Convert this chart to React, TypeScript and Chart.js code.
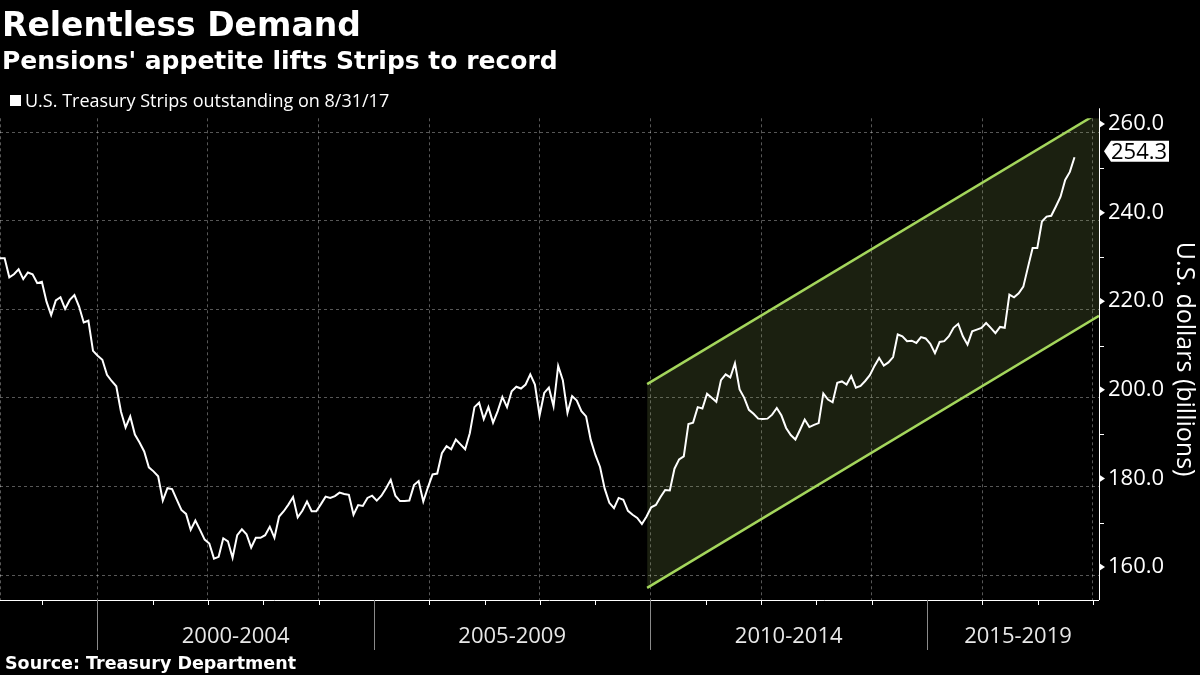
import React, { useEffect, useRef } from "react";
import { Chart, registerables } from "chart.js";

Chart.register(...registerables);

const TITLE = "Relentless Demand";
const SUBTITLE = "Pensions' appetite lifts Strips to record";
const LEGEND_LABEL = "U.S. Treasury Strips outstanding on 8/31/17";
const SOURCE = "Source: Treasury Department";
const Y_TITLE = "U.S. dollars (billions)";

// first and last observation dates (decimal years); observations are evenly spaced between them
const FIRST_DATE = 1998.24;
const LAST_DATE = 2017.667;

// U.S. Treasury Strips outstanding, billions of dollars
const STRIPS = [
  231.5, 231.5, 227.2, 227.9, 229.0, 226.8, 228.3, 227.9, 225.9, 226.2,
  221.7, 218.7, 222.0, 222.7, 220.1, 222.1, 223.2, 220.6, 217.0, 217.4,
  210.6, 209.5, 208.6, 205.2, 203.8, 202.6, 196.9, 193.3, 195.8, 191.7,
  189.9, 187.9, 184.3, 183.4, 182.3, 176.8, 179.6, 179.4, 177.0, 174.7,
  173.8, 170.2, 172.3, 170.2, 168.0, 167.1, 163.7, 164.1, 168.3, 167.6,
  163.9, 169.0, 170.3, 169.2, 166.2, 168.4, 168.4, 169.0, 170.9, 168.4,
  173.2, 174.4, 175.9, 177.6, 173.0, 174.5, 176.6, 174.4, 174.4, 176.0,
  177.7, 177.4, 177.8, 178.6, 178.3, 178.1, 173.6, 175.8, 175.6, 177.4,
  177.9, 176.8, 177.9, 179.6, 181.5, 177.9, 176.7, 176.7, 176.8, 180.3,
  181.2, 176.6, 179.8, 182.7, 182.9, 187.5, 189.1,
  188.4, 190.6, 189.5, 188.4, 192.0, 197.9, 198.9, 195.2, 197.9, 194.4,
  197.0, 200.2, 197.9, 201.5, 202.5, 202.1, 203.0, 205.3, 203.0, 196.0,
  201.1, 202.3, 198.1, 207.2, 204.0, 196.6, 200.4, 199.4, 197.0, 195.8,
  190.5, 187.1, 184.4, 179.5, 176.3, 175.1, 177.4, 177.0, 174.5, 173.6,
  172.9, 171.5, 173.2, 175.3, 175.8, 177.6, 179.2, 179.1,
  184.0, 186.1, 186.8, 194.1, 194.4, 197.9, 197.6, 200.9, 200.0, 199.1,
  204.0, 205.3, 204.6, 207.8, 201.9, 200.0, 197.3, 196.4, 195.3, 195.2,
  195.3, 196.2, 197.7, 196.0, 193.2, 191.6, 190.6, 192.8, 195.1, 193.4,
  193.9, 194.3, 201.0, 199.6, 199.0, 203.4, 203.7, 203.0, 204.9, 202.3,
  202.7, 203.8, 205.1, 207.2,
  209.0, 207.3, 208.0, 209.2, 214.3, 213.9, 212.8, 212.9, 212.4, 213.7,
  213.4, 212.2, 210.1, 212.6, 212.8, 213.9, 215.8, 216.7, 213.9, 212.0,
  215.0, 215.4, 215.8, 216.9, 215.8, 214.6, 216.0, 215.8, 223.3, 222.7,
  223.6, 225.1, 229.5, 233.8, 233.8, 239.8, 240.9, 241.1, 243.2, 245.4,
  249.2, 251.0, 254.3,
];
const LAST_VALUE = 254.3;

// trend channel (start and end of the two parallel lines)
const CHANNEL_DATES = [2009.94, 2018.11];
const CHANNEL_UPPER = [203.1, 264.4];
const CHANNEL_LOWER = [157.1, 218.5];

// axes
const X_MIN = 1998.24;
const X_MAX = 2018.11;
const Y_MIN = 154.36;
const Y_MAX = 263.1;
const Y_TICKS = [160, 180, 200, 220, 240, 260];
const Y_MINOR_TICKS = [170, 190, 210, 230, 250];
const GRID_YEARS = [2000, 2002, 2004, 2006, 2008, 2010, 2012, 2014, 2016, 2018];
const YEAR_TICKS = [1999, 2000, 2001, 2002, 2003, 2004, 2005, 2006, 2007, 2008, 2009, 2010, 2011, 2012, 2013, 2014, 2015, 2016, 2017, 2018];
const PERIOD_STARTS = [2000, 2005, 2010, 2015];
const PERIOD_LABELS = ["2000-2004", "2005-2009", "2010-2014", "2015-2019"];

const GREEN = "#a4d65c";
const CHANNEL_FILL = "rgba(150,175,90,0.18)";
const GRID = "rgba(255,255,255,0.34)";
const FONT = "'Open Sans', 'DejaVu Sans', sans-serif";
const BOLD_FONT = "'DejaVu Sans', sans-serif";

const decorPlugin = {
  id: "decor",
  beforeDatasetsDraw(chart: any) {
    const { ctx, chartArea } = chart;
    ctx.save();
    ctx.strokeStyle = GRID;
    ctx.lineWidth = 1;
    ctx.setLineDash([3, 3]);
    ctx.beginPath();
    ctx.moveTo(chartArea.left + 0.5, chartArea.top);
    ctx.lineTo(chartArea.left + 0.5, chartArea.bottom);
    ctx.stroke();
    ctx.restore();
  },
  afterDraw(chart: any) {
    const { ctx, chartArea } = chart;
    const xs = chart.scales.x;
    const ys = chart.scales.y;
    const { left, right, bottom } = chartArea;
    ctx.save();
    ctx.setLineDash([]);
    // x axis line
    ctx.strokeStyle = "#ffffff";
    ctx.lineWidth = 1;
    ctx.beginPath();
    ctx.moveTo(left, bottom + 0.5);
    ctx.lineTo(right, bottom + 0.5);
    ctx.stroke();
    // year ticks
    YEAR_TICKS.forEach((yr) => {
      const px = Math.round(xs.getPixelForValue(yr)) + 0.5;
      if (px < left || px > right) return;
      ctx.beginPath();
      ctx.moveTo(px, bottom);
      ctx.lineTo(px, bottom + 5);
      ctx.stroke();
    });
    // period separators and labels
    ctx.font = `22px ${FONT}`;
    ctx.textAlign = "center";
    ctx.textBaseline = "middle";
    PERIOD_STARTS.forEach((start, i) => {
      const s = xs.getPixelForValue(start);
      const e = Math.min(xs.getPixelForValue(start + 5), right);
      const px = Math.round(s) + 0.5;
      ctx.strokeStyle = "#8a8a8a";
      ctx.beginPath();
      ctx.moveTo(px, bottom);
      ctx.lineTo(px, bottom + 50);
      ctx.stroke();
      ctx.fillStyle = "#e8e8e8";
      ctx.fillText(PERIOD_LABELS[i], (s + e) / 2 + (e - s < 200 ? 5 : 0), bottom + 37);
    });
    // y axis line
    ctx.strokeStyle = "#ffffff";
    ctx.beginPath();
    ctx.moveTo(right + 0.5, chartArea.top - 10);
    ctx.lineTo(right + 0.5, bottom);
    ctx.stroke();
    // y ticks (drawn at label positions)
    ctx.fillStyle = "#ffffff";
    Y_TICKS.forEach((v) => {
      const py = ys.getPixelForValue(v) - 8;
      ctx.beginPath();
      ctx.moveTo(right, py - 4);
      ctx.lineTo(right + 6, py);
      ctx.lineTo(right, py + 4);
      ctx.closePath();
      ctx.fill();
    });
    Y_MINOR_TICKS.forEach((v) => {
      const py = Math.round(ys.getPixelForValue(v) - 8) + 0.5;
      ctx.beginPath();
      ctx.moveTo(right, py);
      ctx.lineTo(right + 5, py);
      ctx.stroke();
    });
    // last value label
    const ly = ys.getPixelForValue(LAST_VALUE) - 6;
    const bx = right + 5;
    ctx.fillStyle = "#ffffff";
    ctx.beginPath();
    ctx.moveTo(bx, ly);
    ctx.lineTo(bx + 7, ly - 10.5);
    ctx.lineTo(bx + 65, ly - 10.5);
    ctx.lineTo(bx + 65, ly + 10.5);
    ctx.lineTo(bx + 7, ly + 10.5);
    ctx.closePath();
    ctx.fill();
    ctx.fillStyle = "#000000";
    ctx.textAlign = "left";
    ctx.textBaseline = "middle";
    ctx.font = `22px ${FONT}`;
    ctx.fillText(LAST_VALUE.toFixed(1), bx + 7, ly + 1);
    ctx.restore();
  },
};

export default function App() {
  const canvasRef = useRef<HTMLCanvasElement | null>(null);

  useEffect(() => {
    document.body.style.margin = "0";
    document.body.style.background = "#000";
    const canvas = canvasRef.current;
    if (!canvas) return;
    const n = STRIPS.length;
    const step = (LAST_DATE - FIRST_DATE) / (n - 1);
    const lineData = STRIPS.map((v, i) => ({ x: FIRST_DATE + i * step, y: v }));
    const upper = CHANNEL_DATES.map((d, i) => ({ x: d, y: CHANNEL_UPPER[i] }));
    const lower = CHANNEL_DATES.map((d, i) => ({ x: d, y: CHANNEL_LOWER[i] }));

    const chart = new Chart(canvas, {
      type: "line",
      data: {
        datasets: [
          {
            label: LEGEND_LABEL,
            data: lineData,
            borderColor: "#ffffff",
            borderWidth: 2,
            pointRadius: 0,
            tension: 0,
            fill: false,
            order: 0,
            clip: 0,
          },
          {
            label: "channel upper",
            data: upper,
            borderColor: GREEN,
            borderWidth: 2.5,
            pointRadius: 0,
            fill: "+1",
            backgroundColor: CHANNEL_FILL,
            order: 1,
            clip: 0,
          },
          {
            label: "channel lower",
            data: lower,
            borderColor: GREEN,
            borderWidth: 2.5,
            pointRadius: 0,
            fill: false,
            order: 2,
            clip: 0,
          },
        ],
      } as any,
      options: {
        animation: false,
        responsive: false,
        maintainAspectRatio: false,
        devicePixelRatio: 1,
        layout: { padding: { top: 118.3, bottom: 75, left: 0, right: 0 } },
        plugins: {
          legend: { display: false },
          title: { display: false },
          tooltip: { enabled: false },
          filler: { drawTime: "beforeDatasetsDraw" },
        } as any,
        scales: {
          x: {
            type: "linear",
            min: X_MIN,
            max: X_MAX,
            afterBuildTicks: (s: any) => {
              s.ticks = GRID_YEARS.map((v) => ({ value: v }));
            },
            afterFit: (s: any) => {
              s.height = 0;
            },
            ticks: { display: false },
            grid: { color: GRID, lineWidth: 1, drawTicks: false },
            border: { display: false, dash: [3, 3] },
          },
          y: {
            type: "linear",
            position: "right",
            min: Y_MIN,
            max: Y_MAX,
            afterBuildTicks: (s: any) => {
              s.ticks = Y_TICKS.map((v) => ({ value: v }));
            },
            afterFit: (s: any) => {
              s.width = 101;
            },
            grid: { color: GRID, lineWidth: 1, drawTicks: false },
            border: { display: false, dash: [3, 3] },
            ticks: {
              color: "#ffffff",
              font: { family: FONT, size: 22 },
              padding: 9,
              labelOffset: -8,
              callback: (v: any) => Number(v).toFixed(1),
            },
            title: {
              display: true,
              text: Y_TITLE,
              color: "#ffffff",
              font: { family: FONT, size: 25 },
              padding: { top: 1, bottom: 0 },
            },
          },
        },
      } as any,
      plugins: [decorPlugin],
    });
    return () => chart.destroy();
  }, []);

  const abs: React.CSSProperties = { position: "absolute", whiteSpace: "nowrap", lineHeight: 1, color: "#fff" };

  return (
    <div style={{ position: "relative", width: 1200, height: 675, background: "#000", overflow: "hidden" }}>
      <canvas ref={canvasRef} width={1200} height={675} style={{ position: "absolute", left: 0, top: 0 }} />
      <div style={{ ...abs, left: 2, top: 8, fontFamily: BOLD_FONT, fontWeight: "bold", fontSize: 33 }}>{TITLE}</div>
      <div style={{ ...abs, left: 2, top: 48, fontFamily: BOLD_FONT, fontWeight: "bold", fontSize: 25 }}>{SUBTITLE}</div>
      <div style={{ position: "absolute", left: 10, top: 95, width: 11, height: 11, background: "#fff" }} />
      <div style={{ ...abs, left: 25, top: 91, fontFamily: FONT, fontSize: 18 }}>{LEGEND_LABEL}</div>
      <div style={{ ...abs, left: 5, top: 655, fontFamily: BOLD_FONT, fontWeight: "bold", fontSize: 17.5 }}>{SOURCE}</div>
    </div>
  );
}
